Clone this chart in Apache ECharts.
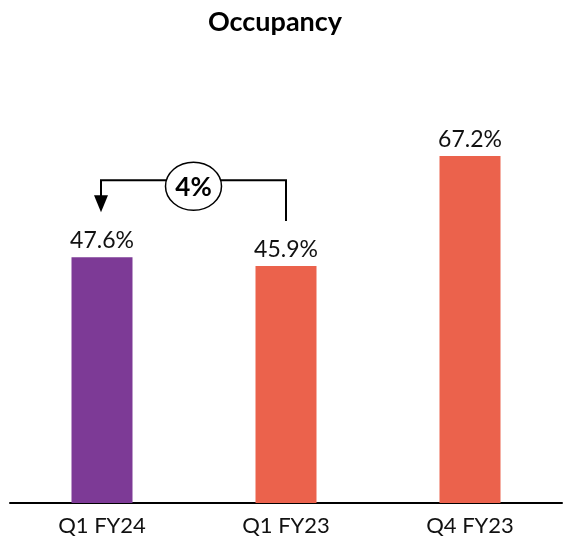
<!DOCTYPE html>
<html><head><meta charset="utf-8">
<script src="https://cdn.jsdelivr.net/npm/echarts@6/dist/echarts.min.js"></script>
<style>html,body{margin:0;padding:0;background:#fff}#c{width:563px;height:543px}</style>
</head><body><div id="c"></div>
<script>
const categories = ['Q1 FY24', 'Q1 FY23', 'Q4 FY23'];
const values = [47.6, 45.9, 67.2];
const barColors = ['#7D3A96', '#EB624C', '#EB624C'];
const changeLabel = '4%';
const FONT = 'Lato, "Open Sans", sans-serif';

const chart = echarts.init(document.getElementById('c'), null, {renderer: 'canvas'});
const option = {
  animation: false,
  title: {
    text: 'Occupancy', left: 270, top: 4, textAlign: 'center',
    textStyle: {fontFamily: FONT, fontWeight: 'bold', fontSize: 27, color: '#000'}
  },
  grid: {left: 10, right: 1, top: 90, bottom: 40},
  xAxis: {
    type: 'category', data: categories,
    axisLine: {lineStyle: {color: '#000', width: 2}},
    axisTick: {show: false},
    axisLabel: {fontFamily: FONT, fontSize: 22, color: '#111', margin: 12}
  },
  yAxis: {type: 'value', min: 0, max: 80, show: false, splitLine: {show: false}},
  series: [{
    type: 'bar', barWidth: 61,
    data: values.map((v, i) => ({value: v, itemStyle: {color: barColors[i]}})),
    label: {show: true, position: 'top', distance: 5, fontFamily: FONT, fontSize: 23, color: '#111',
      formatter: p => p.value.toFixed(1) + '%'}
  }]
};
chart.setOption(option);

function drawAnnotation() {
  const p0 = chart.convertToPixel({seriesIndex: 0}, [0, values[0]]);
  const p1 = chart.convertToPixel({seriesIndex: 0}, [1, values[1]]);
  const x0 = p0[0] - 1, x1 = p1[0];
  const tipY = p0[1] - 45;
  const endY = p1[1] - 45;
  const lineY = Math.min(p0[1], p1[1]) - 77;
  const cx = (x0 + x1) / 2;
  const cy = lineY + 6;
  chart.setOption({
    graphic: [
      {type: 'polyline', shape: {points: [[x1, endY], [x1, lineY], [x0, lineY], [x0, tipY - 16]]},
        style: {stroke: '#000', lineWidth: 2, fill: null}, z: 10},
      {type: 'polygon', shape: {points: [[x0 - 7, tipY - 17], [x0 + 7, tipY - 17], [x0, tipY]]},
        style: {fill: '#000'}, z: 10},
      {type: 'ellipse', shape: {cx: cx, cy: cy, rx: 28, ry: 24},
        style: {fill: '#fff', stroke: '#000', lineWidth: 1.5}, z: 11},
      {type: 'text', x: cx, y: cy + 1, z: 12,
        style: {text: changeLabel, fontFamily: FONT, fontWeight: 'bold', fontSize: 26, fill: '#000',
          align: 'center', verticalAlign: 'middle'}}
    ]
  });
}
drawAnnotation();
</script></body></html>
